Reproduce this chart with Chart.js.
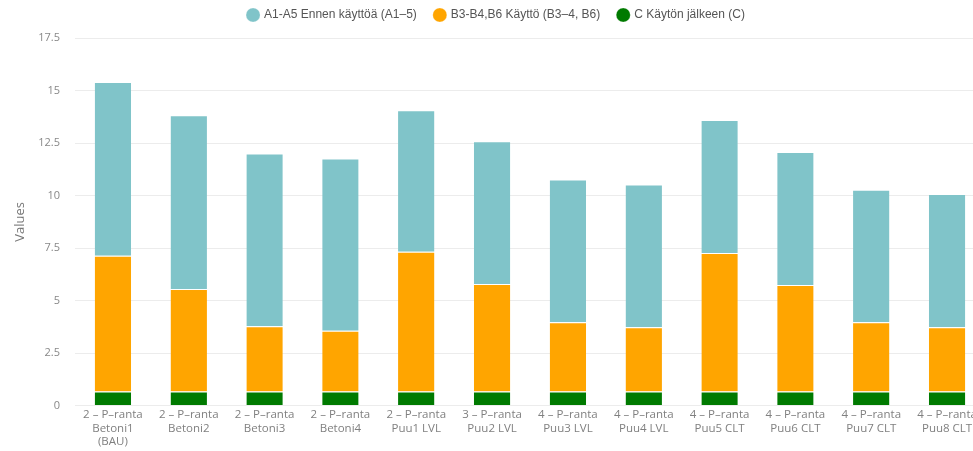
<!DOCTYPE html>
<html>
<head>
<meta charset="utf-8">
<script src="https://cdn.jsdelivr.net/npm/chart.js@4/dist/chart.umd.min.js"></script>
<style>
  html, body { margin: 0; padding: 0; background: #fff; overflow: hidden; }
  #wrap { width: 990px; height: 451px; }
</style>
</head>
<body>
<div id="wrap"><canvas id="chart"></canvas></div>
<script>
const categories = [
  ['2 – P–ranta', 'Betoni1', '(BAU)'],
  ['2 – P–ranta', 'Betoni2'],
  ['2 – P–ranta', 'Betoni3'],
  ['2 – P–ranta', 'Betoni4'],
  ['2 – P–ranta', 'Puu1 LVL'],
  ['3 – P–ranta', 'Puu2 LVL'],
  ['4 – P–ranta', 'Puu3 LVL'],
  ['4 – P–ranta', 'Puu4 LVL'],
  ['4 – P–ranta', 'Puu5 CLT'],
  ['4 – P–ranta', 'Puu6 CLT'],
  ['4 – P–ranta', 'Puu7 CLT'],
  ['4 – P–ranta', 'Puu8 CLT']
];

// stage values per building option
const afterUse = [0.67, 0.67, 0.67, 0.67, 0.67, 0.67, 0.67, 0.67, 0.67, 0.67, 0.67, 0.67];
const inUse = [6.46, 4.88, 3.11, 2.89, 6.65, 5.12, 3.30, 3.06, 6.60, 5.07, 3.30, 3.06];
const beforeUse = [8.27, 8.27, 8.22, 8.20, 6.74, 6.79, 6.79, 6.79, 6.33, 6.33, 6.31, 6.34];

const yTicks = [0, 2.5, 5, 7.5, 10, 12.5, 15, 17.5];

const tickFont = { family: '"Open Sans", sans-serif', size: 11 };

// a bit more room under the legend
const legendSpacer = {
  id: 'legendSpacer',
  beforeInit(chart) {
    const fit = chart.legend.fit;
    chart.legend.fit = function () {
      fit.call(this);
      this.height += 7;
    };
  }
};

const topBorder = { top: 1, bottom: 0, left: 0, right: 0 };

new Chart(document.getElementById('chart'), {
  type: 'bar',
  data: {
    labels: categories,
    datasets: [
      {
        label: 'C Käytön jälkeen (C)',
        data: afterUse,
        backgroundColor: '#007a00',
        borderColor: '#ffffff',
        borderWidth: topBorder,
        borderSkipped: false
      },
      {
        label: 'B3-B4,B6 Käyttö (B3–4, B6)',
        data: inUse,
        backgroundColor: '#ffa500',
        borderColor: '#ffffff',
        borderWidth: topBorder,
        borderSkipped: false
      },
      {
        label: 'A1-A5 Ennen käyttöä (A1–5)',
        data: beforeUse,
        backgroundColor: '#80c4c9',
        borderColor: '#ffffff',
        borderWidth: topBorder,
        borderSkipped: false
      }
    ]
  },
  plugins: [legendSpacer],
  options: {
    responsive: true,
    maintainAspectRatio: false,
    animation: false,
    categoryPercentage: 0.8,
    barPercentage: 0.6,
    layout: { padding: { top: -9, right: 5, bottom: 0, left: 8 } },
    plugins: {
      legend: {
        position: 'top',
        reverse: true,
        labels: {
          usePointStyle: true,
          pointStyle: 'circle',
          boxWidth: 10,
          boxHeight: 10,
          padding: 18,
          color: '#555',
          font: { family: '"Liberation Sans", Arial, sans-serif', size: 12 }
        }
      },
      tooltip: { enabled: false }
    },
    scales: {
      x: {
        stacked: true,
        grid: { display: false, drawTicks: false },
        border: { display: false },
        ticks: {
          color: '#808080',
          font: { family: '"Open Sans", sans-serif', size: 11.5 },
          maxRotation: 0,
          autoSkip: false,
          padding: 2
        }
      },
      y: {
        stacked: true,
        min: 0,
        max: 17.5,
        afterBuildTicks: axis => {
          axis.ticks = yTicks.map(v => ({ value: v }));
        },
        afterFit: axis => {
          axis.width = 67;
        },
        grid: { color: '#ececec', drawTicks: false },
        border: { display: false },
        ticks: {
          color: '#888',
          font: tickFont,
          padding: 15
        },
        title: {
          display: true,
          text: 'Values',
          color: '#777',
          font: { family: '"Open Sans", sans-serif', size: 13 },
          padding: { top: 4, bottom: 0 }
        }
      }
    }
  }
});
</script>
</body>
</html>
